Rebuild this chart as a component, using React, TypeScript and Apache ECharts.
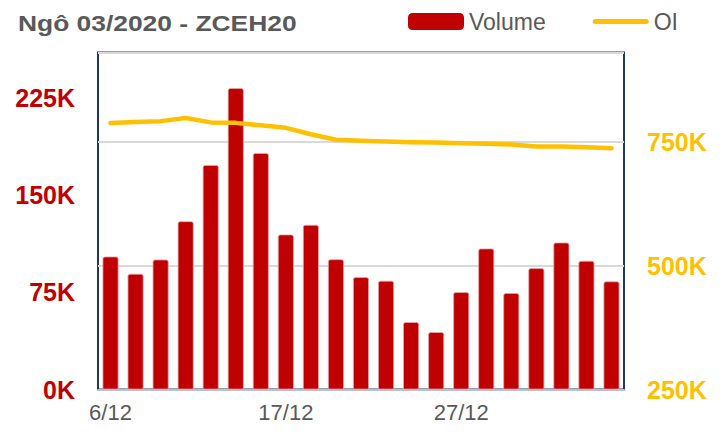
import React, { useEffect, useRef } from "react";
import * as echarts from "echarts";

const titleText = "Ngô 03/2020 - ZCEH20";
const categories = [
  "6/12", "9/12", "10/12", "11/12", "12/12", "13/12", "16/12", "17/12", "18/12", "19/12", "20/12",
  "23/12", "24/12", "26/12", "27/12", "30/12", "31/12", "2/1", "3/1", "6/1", "7/1",
];
const volume = [
  102600, 89300, 100300, 129800, 173200, 232500, 182400, 119600, 127000, 100500, 86700,
  83900, 52000, 44300, 75100, 108800, 74400, 93600, 113400, 99300, 83400,
];
const oi = [
  787500, 790000, 791500, 798000, 789000, 788000, 783000, 778000, 765000, 754000, 752000,
  750500, 749000, 748500, 747000, 746000, 744500, 740500, 740500, 739000, 737000,
];

const FONT = '"Liberation Sans", Arial, sans-serif';
const OI_ICON =
  "path://M0,0 L0,0 M56,17 L56,17 M2.5,6 L53.5,6 A2.5,2.5 0 0 1 53.5,11 L2.5,11 A2.5,2.5 0 0 1 2.5,6 Z";

export default function App() {
  const ref = useRef<HTMLDivElement>(null);
  useEffect(() => {
    if (!ref.current) return;
    const chart = echarts.init(ref.current, undefined, { renderer: "svg" });
    chart.setOption({
      animation: false,
      backgroundColor: "#ffffff",
      textStyle: { fontFamily: FONT },
      graphic: [
        {
          type: "text",
          x: 18,
          y: 23,
          scaleX: 1.2,
          style: {
            text: titleText,
            fontFamily: FONT,
            fontWeight: "bold",
            fontSize: 22,
            fill: "#595959",
            verticalAlign: "middle",
          },
        },
      ],
      legend: {
        left: 408,
        top: 10,
        padding: 0,
        itemWidth: 56,
        itemHeight: 17,
        itemGap: 47,
        textStyle: { fontSize: 23, color: "#595959", fontFamily: FONT },
        data: [
          { name: "Volume", itemStyle: { borderWidth: 0 } },
          { name: "OI", icon: OI_ICON, itemStyle: { color: "#FFC000", borderWidth: 0 } },
        ],
      },
      grid: {
        left: 98,
        right: 104,
        top: 52.5,
        bottom: 42.5,
        show: true,
        borderColor: "#1F3864",
        borderWidth: 2,
        backgroundColor: "transparent",
      },
      xAxis: {
        type: "category",
        data: categories,
        boundaryGap: true,
        axisLine: { show: true, lineStyle: { color: "#B8C2D4", width: 2 } },
        axisTick: { show: false },
        axisLabel: {
          interval: 6,
          fontSize: 22,
          color: "#595959",
          fontFamily: FONT,
          margin: 12,
        },
      },
      yAxis: [
        {
          type: "value",
          min: 0,
          max: 260000,
          interval: 75000,
          axisLine: { show: false },
          axisTick: { show: false },
          splitLine: { show: false },
          axisLabel: {
            margin: 23,
            fontSize: 25,
            fontWeight: "bold",
            color: "#C00000",
            fontFamily: FONT,
            formatter: (v: number) => (v % 75000 === 0 ? v / 1000 + "K" : ""),
          },
        },
        {
          type: "value",
          position: "right",
          min: 250000,
          max: 930000,
          interval: 250000,
          axisLine: { show: false },
          axisTick: { show: false },
          splitLine: { show: true, lineStyle: { color: "#D9D9D9", width: 2 } },
          axisLabel: {
            margin: 23,
            fontSize: 25,
            fontWeight: "bold",
            color: "#FFC000",
            fontFamily: FONT,
            formatter: (v: number) => (v % 250000 === 0 ? v / 1000 + "K" : ""),
          },
        },
      ],
      series: [
        {
          name: "Volume",
          type: "bar",
          yAxisIndex: 0,
          data: volume,
          barWidth: 16,
          itemStyle: {
            color: "#C00000",
            borderColor: "#E3A9A9",
            borderWidth: 0.8,
            borderRadius: [2, 2, 0, 0],
          },
        },
        {
          name: "OI",
          type: "line",
          yAxisIndex: 1,
          data: oi,
          symbol: "none",
          showSymbol: false,
          lineStyle: { color: "#FFC000", width: 4.5, cap: "round", join: "round" },
          itemStyle: { color: "#FFC000" },
          z: 3,
        },
      ],
    });
    return () => chart.dispose();
  }, []);
  return (
    <div
      ref={ref}
      style={{ position: "fixed", left: 0, top: 0, width: 728, height: 432 }}
    />
  );
}
